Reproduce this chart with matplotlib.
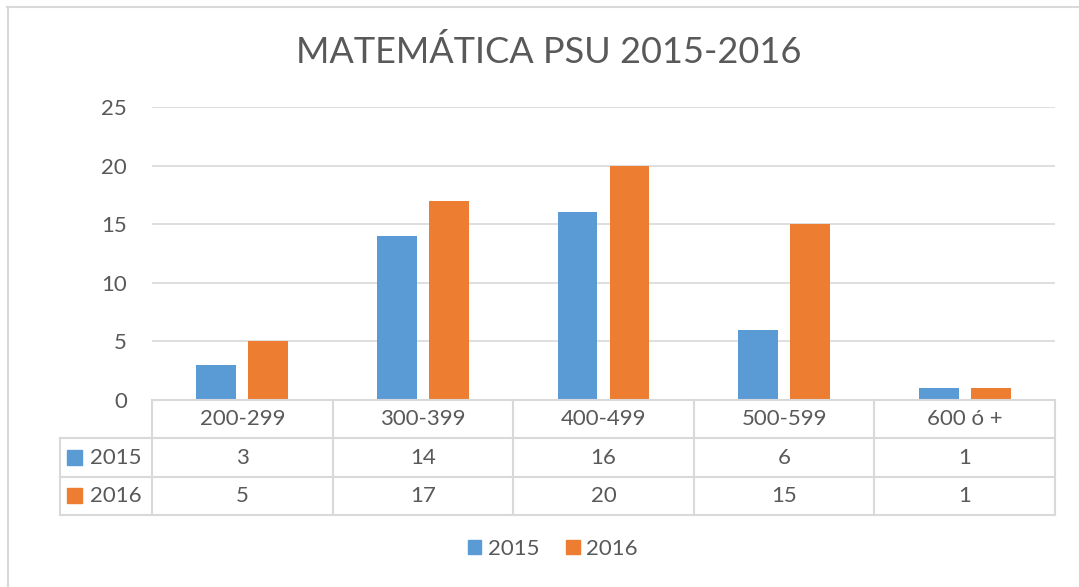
import numpy as np
import matplotlib.pyplot as plt

plt.rcParams['font.family'] = ['Lato', 'DejaVu Sans']

# data
categories = ['200-299', '300-399', '400-499', '500-599', '600 ó +']
series_names = ['2015', '2016']
values_2015 = [3, 14, 16, 6, 1]
values_2016 = [5, 17, 20, 15, 1]
yticks = [0, 5, 10, 15, 20, 25]

blue = '#5b9bd5'
orange = '#ed7d31'
text_col = '#595959'
line_col = '#d9d9d9'

W, H = 1079, 587
fig = plt.figure(figsize=(W / 100, H / 100), dpi=100)


def px_box(x0, y0, x1, y1):
    # pixel box (top-left origin) -> figure fraction rect
    return [x0 / W, 1 - y1 / H, (x1 - x0) / W, (y1 - y0) / H]


# outer frame
fig.add_artist(plt.Line2D([7 / W, 1], [1 - 7 / H] * 2, color=line_col, lw=1.5))
fig.add_artist(plt.Line2D([8 / W] * 2, [0, 1 - 7 / H], color=line_col, lw=1.5))

fig.text(549 / W, 1 - 52 / H, 'MATEMÁTICA PSU 2015-2016', ha='center', va='center',
         fontsize=26, color=text_col)

# main bar chart
ax = fig.add_axes(px_box(152, 107, 1055, 400))
x = np.arange(len(categories))
bw = 0.22
off = 0.144
ax.bar(x - off, values_2015, bw, color=blue, zorder=3)
ax.bar(x + off, values_2016, bw, color=orange, zorder=3)
ax.set_xlim(-0.5, len(categories) - 0.5)
ax.set_ylim(0, 25)
ax.set_yticks(yticks)
ax.set_yticklabels([str(t) for t in yticks], fontsize=16, color=text_col)
ax.tick_params(axis='y', length=0, pad=18)
ax.set_xticks([])
ax.grid(axis='y', color=line_col, lw=1.2, zorder=0)
for s in ax.spines.values():
    s.set_visible(False)

# data table under the chart
col_px = 180.6
row_px = 115 / 3
tab = fig.add_axes(px_box(60, 400, 1055, 515))
left = -0.5 - 92 / col_px
tab.set_xlim(left, len(categories) - 0.5)
tab.set_ylim(3, 0)
tab.axis('off')
lk = dict(color=line_col, lw=1.5, clip_on=False)
# horizontal lines
tab.plot([-0.5, len(categories) - 0.5], [0, 0], **lk)
for r in [1, 2, 3]:
    tab.plot([left, len(categories) - 0.5], [r, r], **lk)
# vertical lines
tab.plot([left, left], [1, 3], **lk)
for c in range(len(categories) + 1):
    tab.plot([c - 0.5, c - 0.5], [0, 3], **lk)

for i, cat in enumerate(categories):
    tab.text(i, 0.5, cat, ha='center', va='center', fontsize=16, color=text_col)
sq_w = 15 / col_px
sq_h = 15 / row_px
for r, (name, vals, col) in enumerate(zip(series_names, [values_2015, values_2016], [blue, orange])):
    tab.add_patch(plt.Rectangle((left + 7 / col_px, r + 1.5 - sq_h / 2), sq_w, sq_h,
                                color=col, clip_on=False))
    tab.text(left + 30 / col_px, r + 1.5, name, ha='left', va='center', fontsize=16, color=text_col)
    for i, v in enumerate(vals):
        tab.text(i, r + 1.5, str(v), ha='center', va='center', fontsize=16, color=text_col)

# legend
leg_handles = [plt.Rectangle((0, 0), 1, 1, color=blue), plt.Rectangle((0, 0), 1, 1, color=orange)]
fig.legend(leg_handles, series_names, loc='center', bbox_to_anchor=(553 / W, 1 - 549 / H),
           ncol=2, frameon=False, fontsize=16, labelcolor=text_col,
           handlelength=0.6, handleheight=0.6, handletextpad=0.3, columnspacing=1.2)

fig.savefig('out.png', dpi=100, facecolor='white')
